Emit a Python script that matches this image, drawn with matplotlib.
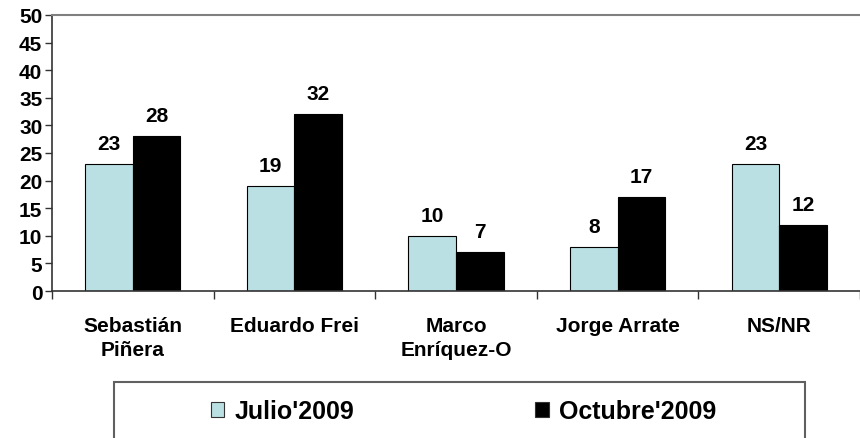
import matplotlib
matplotlib.use("Agg")
import matplotlib.pyplot as plt
from matplotlib.patches import Rectangle, Patch
import numpy as np

plt.rcParams['font.family'] = ['Liberation Sans', 'DejaVu Sans']
plt.rcParams['font.weight'] = 'bold'

categories = ["Sebastián\nPiñera", "Eduardo Frei", "Marco\nEnríquez-O", "Jorge Arrate", "NS/NR"]
julio = [23, 19, 10, 8, 23]
octubre = [28, 32, 7, 17, 12]
series_names = ["Julio'2009", "Octubre'2009"]
yticks = [0, 5, 10, 15, 20, 25, 30, 35, 40, 45, 50]

c_jul = "#BBE0E3"
c_oct = "#000000"

fig = plt.figure(figsize=(8.6, 4.39), dpi=100)
ax = fig.add_axes([52/860, 1-292/439, 1-52/860, (292-16)/439])

x = np.arange(len(categories))
w = 0.294
b1 = ax.bar(x - w/2, julio, w, color=c_jul, edgecolor="#000000", linewidth=0.8)
b2 = ax.bar(x + w/2, octubre, w, color=c_oct, edgecolor="#000000", linewidth=0.8)

for bars, vals in ((b1, julio), (b2, octubre)):
    for r, v in zip(bars, vals):
        ax.annotate(str(v), (r.get_x() + r.get_width()/2, v), xytext=(0, 8),
                    textcoords="offset points", ha="center", va="bottom",
                    fontsize=15, fontweight="bold")

ax.set_xlim(-0.5, len(categories) - 0.5)
ax.set_ylim(0, 50)
ax.set_yticks(yticks)
ax.set_yticklabels([str(t) for t in yticks], fontsize=15, fontweight="bold")
ax.tick_params(axis="y", direction="out", length=5, width=1, color="#333333", pad=2)

ax.set_xticks(np.arange(-0.5, len(categories), 1.0))
ax.set_xticklabels([])
ax.set_xticks(x, minor=True)
ax.set_xticklabels(categories, minor=True, fontsize=15, fontweight="bold", linespacing=1.35)
ax.tick_params(axis="x", which="major", direction="out", length=6, width=1, color="#333333")
ax.tick_params(axis="x", which="minor", length=0, pad=18)

ax.spines["right"].set_visible(False)
ax.spines["top"].set_color("#808080")
ax.spines["top"].set_linewidth(1.5)
ax.spines["left"].set_color("#333333")
ax.spines["bottom"].set_color("#333333")
ax.spines["left"].set_linewidth(1.2)
ax.spines["bottom"].set_linewidth(1.2)

# legend box
fig.patches.append(Rectangle((114/860, -0.05), (805-114)/860, 0.05 + (439-383)/439,
                             transform=fig.transFigure, fill=False,
                             edgecolor="#606060", linewidth=1.5))
handles = [Patch(facecolor=c_jul, edgecolor="#333333", linewidth=0.8),
           Patch(facecolor=c_oct, edgecolor="#333333", linewidth=0.8)]
fig.legend(handles, series_names, ncol=2, loc="center",
           bbox_to_anchor=(0.539, 1-412/439), frameon=False,
           prop={"size": 18, "weight": "bold"}, handlelength=0.55, handleheight=0.55,
           handletextpad=0.4, columnspacing=7.25)

fig.savefig("out.png", dpi=100)
